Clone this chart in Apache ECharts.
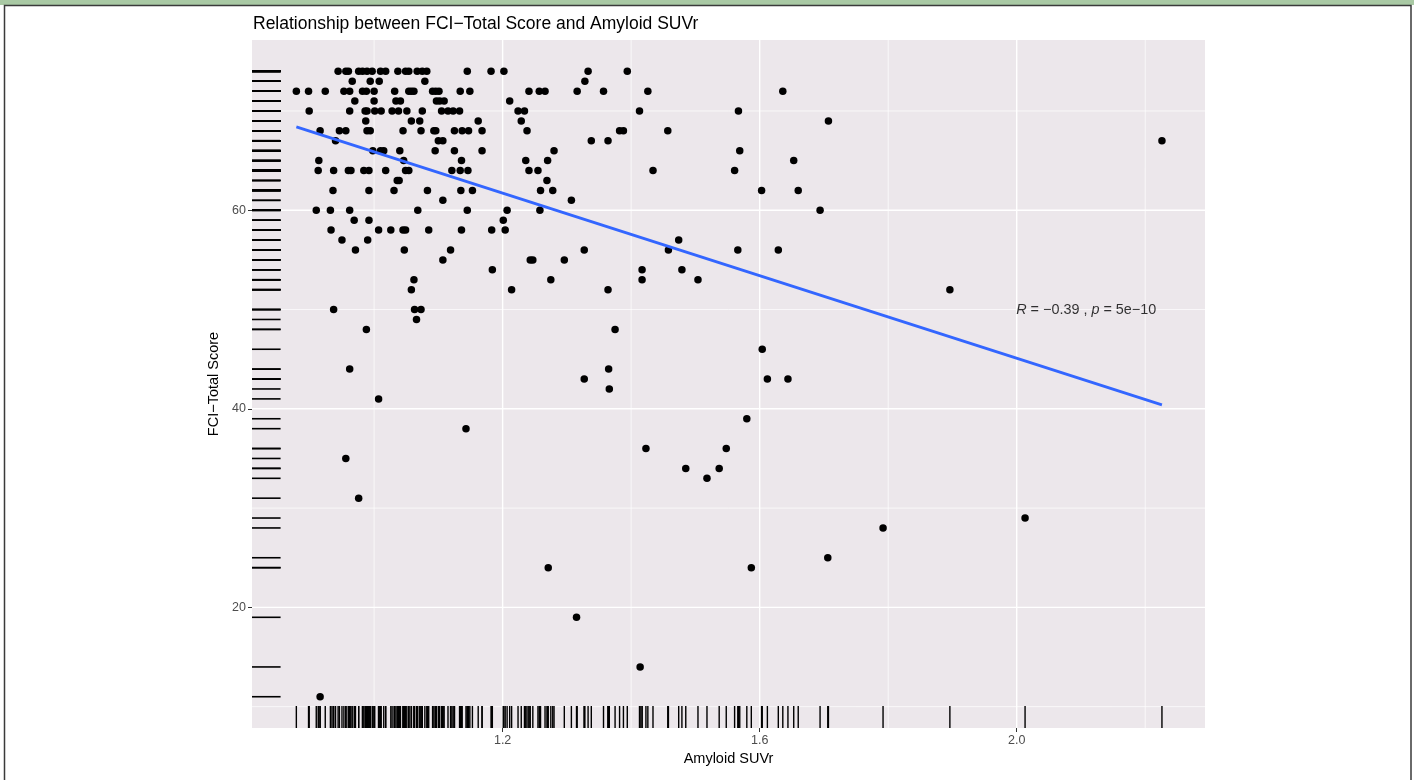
<!DOCTYPE html>
<html>
<head>
<meta charset="utf-8">
<title>FCI-Total Score vs Amyloid SUVr</title>
<script src="https://cdn.jsdelivr.net/npm/echarts@6/dist/echarts.min.js"></script>
<style>
  html, body { margin: 0; padding: 0; background: #fff; }
  #chart { width: 1414px; height: 780px; }
</style>
</head>
<body>
<div id="chart"></div>
<script>
// FCI-Total score levels, and the amyloid SUVr of every subject at that level
const fciLevels = [74, 73, 72, 71, 70, 69, 68, 67, 66, 65, 64, 63, 62, 61, 60, 59, 58, 57, 56, 55,
  54, 53, 52, 50, 49, 48, 46, 44, 43, 42, 41, 39, 38, 36, 35, 34, 33, 31, 29, 28, 25, 24, 19, 14, 11];
const suvrAtLevel = [
  [0.944, 0.956, 0.960, 0.976, 0.982, 0.989, 0.997, 1.010, 1.018, 1.037, 1.049, 1.054, 1.067, 1.075, 1.082, 1.145, 1.182, 1.202, 1.333, 1.394],
  [0.966, 0.994, 1.008, 1.079, 1.328],
  [0.879, 0.898, 0.924, 0.953, 0.962, 0.982, 0.988, 1.000, 1.032, 1.054, 1.058, 1.062, 1.091, 1.096, 1.101, 1.134, 1.149, 1.241, 1.257, 1.266, 1.316, 1.357, 1.426, 1.636],
  [0.970, 1.000, 1.034, 1.041, 1.097, 1.102, 1.109, 1.211],
  [0.899, 0.962, 0.986, 0.989, 1.001, 1.011, 1.028, 1.038, 1.051, 1.075, 1.105, 1.115, 1.123, 1.133, 1.224, 1.234, 1.413, 1.567],
  [0.987, 1.058, 1.071, 1.162, 1.229, 1.707],
  [0.916, 0.946, 0.956, 0.989, 0.994, 1.045, 1.073, 1.093, 1.096, 1.125, 1.137, 1.147, 1.168, 1.238, 1.382, 1.388, 1.457],
  [0.940, 1.100, 1.107, 1.338, 1.364, 2.226],
  [0.998, 1.010, 1.015, 1.040, 1.095, 1.125, 1.168, 1.280, 1.569],
  [0.914, 1.046, 1.136, 1.236, 1.270, 1.653],
  [0.913, 0.937, 0.960, 0.964, 0.984, 0.992, 1.018, 1.049, 1.054, 1.121, 1.134, 1.146, 1.241, 1.255, 1.434, 1.561],
  [1.036, 1.039, 1.269],
  [0.936, 0.992, 1.031, 1.083, 1.135, 1.153, 1.259, 1.278, 1.603, 1.660],
  [1.107, 1.307],
  [0.910, 0.932, 0.962, 1.068, 1.145, 1.207, 1.258, 1.694],
  [0.969, 0.992, 1.201],
  [0.933, 1.007, 1.026, 1.045, 1.049, 1.085, 1.136, 1.183, 1.204],
  [0.950, 0.990, 1.474],
  [0.971, 1.047, 1.119, 1.327, 1.458, 1.566, 1.629],
  [1.107, 1.243, 1.247, 1.296],
  [1.184, 1.417, 1.479],
  [1.062, 1.275, 1.417, 1.504],
  [1.058, 1.214, 1.364, 1.896],
  [0.937, 1.063, 1.073],
  [1.066],
  [0.988, 1.375],
  [1.604],
  [0.962, 1.365],
  [1.327, 1.612, 1.644],
  [1.366],
  [1.007],
  [1.580],
  [1.143],
  [1.423, 1.548],
  [0.956],
  [1.485, 1.537],
  [1.518],
  [0.976],
  [2.013],
  [1.792],
  [1.706],
  [1.271, 1.587],
  [1.315],
  [1.414],
  [0.916]
];

// linear fit end points and the correlation label
const fitSuvr = [0.879, 2.226];
const fitFci = [68.4, 40.4];
const corPos = [2.0, 50];
const corR = '\u22120.39';
const corP = '5e\u221210';

// axis ranges and breaks
const xRange = [0.81, 2.293];
const yRange = [7.85, 77.15];
const xMajor = [1.2, 1.6, 2.0];
const xMinor = [1.0, 1.4, 1.8, 2.2];
const yMajor = [20, 40, 60];
const yMinor = [10, 30, 50, 70];

const points = fciLevels.flatMap((fci, i) => suvrAtLevel[i].map(s => [s, fci]));

const FONT = 'Liberation Sans, Arial, sans-serif';

function gridLines(values, vertical, width) {
  return {
    type: 'custom',
    silent: true,
    z: 1,
    data: values.map(v => vertical ? [v, yRange[0]] : [xRange[0], v]),
    renderItem: (params, api) => {
      const a = vertical ? api.coord([api.value(0), yRange[0]]) : api.coord([xRange[0], api.value(1)]);
      const b = vertical ? api.coord([api.value(0), yRange[1]]) : api.coord([xRange[1], api.value(1)]);
      return {
        type: 'line',
        shape: { x1: a[0], y1: a[1], x2: b[0], y2: b[1] },
        style: { stroke: '#ffffff', lineWidth: width }
      };
    }
  };
}

// ggplot-style rug: 3% of the panel
function rug(onX) {
  return {
    type: 'custom',
    silent: true,
    z: 2,
    data: points,
    renderItem: (params, api) => {
      const cs = params.coordSys;
      if (onX) {
        const p = api.coord([api.value(0), yRange[0]]);
        return { type: 'line', shape: { x1: p[0], y1: p[1], x2: p[0], y2: p[1] - cs.height * 0.032 },
          style: { stroke: '#000', lineWidth: 1.4 } };
      }
      const p = api.coord([xRange[0], api.value(1)]);
      return { type: 'line', shape: { x1: p[0], y1: p[1], x2: p[0] + cs.width * 0.03, y2: p[1] },
        style: { stroke: '#000', lineWidth: 1.6 } };
    }
  };
}

const chart = echarts.init(document.getElementById('chart'));
chart.setOption({
  animation: false,
  textStyle: { fontFamily: FONT },
  title: {
    text: 'Relationship between FCI\u2212Total Score and Amyloid SUVr',
    left: 248,
    top: 10,
    textStyle: { fontSize: 17.5, fontWeight: 'normal', color: '#000', fontFamily: FONT }
  },
  graphic: [
    { type: 'rect', shape: { x: 0, y: 0, width: 1414, height: 5 }, style: { fill: '#a9c9a4' }, silent: true },
    { type: 'polyline', shape: { points: [[4.5, 780], [4.5, 5.5], [1411, 5.5], [1411, 780]] },
      style: { stroke: '#3a3a3a', lineWidth: 1.5, fill: null }, silent: true }
  ],
  grid: {
    left: 252, top: 40, width: 953, height: 688,
    show: true, backgroundColor: '#ece7eb', borderWidth: 0
  },
  xAxis: {
    type: 'value',
    min: xRange[0], max: xRange[1],
    name: 'Amyloid SUVr',
    nameLocation: 'middle',
    nameGap: 21,
    nameTextStyle: { color: '#000', fontSize: 14.5, fontFamily: FONT },
    axisLine: { show: false },
    splitLine: { show: false },
    axisTick: { show: true, length: 4, customValues: xMajor, lineStyle: { color: '#333', width: 1 } },
    axisLabel: { customValues: xMajor, color: '#4d4d4d', fontSize: 12.5, margin: 6,
      formatter: v => v.toFixed(1) }
  },
  yAxis: {
    type: 'value',
    min: yRange[0], max: yRange[1],
    name: 'FCI\u2212Total Score',
    nameLocation: 'middle',
    nameGap: 25,
    nameTextStyle: { color: '#000', fontSize: 14.5, fontFamily: FONT },
    axisLine: { show: false },
    splitLine: { show: false },
    axisTick: { show: true, length: 4, customValues: yMajor, lineStyle: { color: '#333', width: 1 } },
    axisLabel: { customValues: yMajor, color: '#4d4d4d', fontSize: 12.5, margin: 6 }
  },
  series: [
    gridLines(xMinor, true, 0.7),
    gridLines(yMinor, false, 0.7),
    gridLines(xMajor, true, 1.4),
    gridLines(yMajor, false, 1.4),
    rug(true),
    rug(false),
    {
      type: 'scatter',
      silent: true,
      z: 3,
      data: points,
      symbolSize: 7.5,
      itemStyle: { color: '#000', opacity: 1 }
    },
    {
      type: 'line',
      silent: true,
      z: 4,
      data: fitSuvr.map((s, i) => [s, fitFci[i]]),
      showSymbol: false,
      lineStyle: { color: '#3366ff', width: 2.8 }
    },
    {
      type: 'scatter',
      silent: true,
      z: 5,
      data: [corPos],
      symbolSize: 1,
      itemStyle: { color: 'rgba(0,0,0,0)' },
      label: {
        show: true,
        position: 'right',
        distance: -1,
        formatter: '{i|R} = ' + corR + ' , {i|p} = ' + corP,
        color: '#000',
        fontSize: 14.4,
        fontFamily: FONT,
        rich: { i: { fontStyle: 'italic', fontSize: 14.4, color: '#000', fontFamily: FONT } }
      }
    }
  ]
});
</script>
</body>
</html>
